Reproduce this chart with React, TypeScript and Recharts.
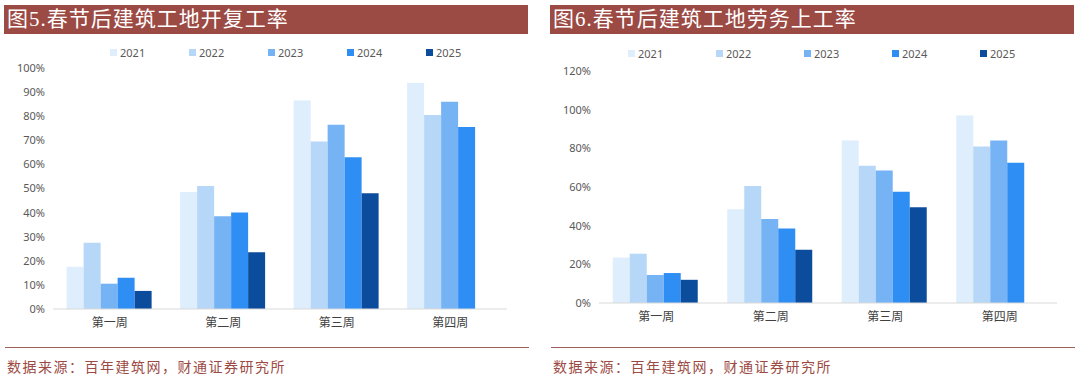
import { BarChart, Bar, XAxis, YAxis, Legend } from 'recharts'

const weeks = ['第一周', '第二周', '第三周', '第四周']
const years = ['2021', '2022', '2023', '2024', '2025']
const colors = ['#DEEEFC', '#B7D7F8', '#76B3F5', '#2F8EF4', '#0B4C9C']

// 开复工率 (%)
const resume2021 = [17.5, 48.5, 86.5, 93.8]
const resume2022 = [27.5, 51, 69.5, 80.5]
const resume2023 = [10.5, 38.5, 76.5, 86]
const resume2024 = [13, 40, 63, 75.5]
const resume2025 = [7.5, 23.5, 48, null]
const resumeTicks = [0, 10, 20, 30, 40, 50, 60, 70, 80, 90, 100]

// 劳务上工率 (%)
const labor2021 = [23.5, 48.5, 84, 97]
const labor2022 = [25.5, 60.5, 71, 81]
const labor2023 = [14.5, 43.5, 68.5, 84]
const labor2024 = [15.5, 38.5, 57.5, 72.5]
const labor2025 = [12, 27.5, 49.5, null]
const laborTicks = [0, 20, 40, 60, 80, 100, 120]

const build = (series: (number | null)[][]) =>
  weeks.map((w, i) => {
    const row: Record<string, string | number | null> = { week: w }
    years.forEach((y, j) => {
      row[y] = series[j][i]
    })
    return row
  })

const resumeData = build([resume2021, resume2022, resume2023, resume2024, resume2025])
const laborData = build([labor2021, labor2022, labor2023, labor2024, labor2025])

const BRAND = '#9C4A44'
const serif = '"Liberation Serif", "DejaVu Serif", "Noto Sans CJK SC", serif'
const sans = '"Noto Sans", "Noto Sans CJK SC", sans-serif'

const legendContent = (itemWidth: number) => () => (
  <div style={{ display: 'flex' }}>
    {years.map((y, i) => (
      <div
        key={y}
        style={{ width: itemWidth, display: 'flex', alignItems: 'center', fontSize: 11, color: '#595959', fontFamily: sans }}
      >
        <span style={{ width: 7, height: 7, background: colors[i], marginRight: 3, display: 'inline-block' }} />
        {y}
      </div>
    ))}
  </div>
)

function Panel({
  left,
  title,
  data,
  ticks,
  max,
  marginTop,
  marginBottom,
  marginRight,
  legendLeft,
  legendTop,
  legendItem,
}: {
  left: number
  title: string
  data: Record<string, string | number | null>[]
  ticks: number[]
  max: number
  marginTop: number
  marginBottom: number
  marginRight: number
  legendLeft: number
  legendTop: number
  legendItem: number
}) {
  return (
    <>
      <div
        style={{
          position: 'absolute',
          left: left + 4,
          top: 5,
          width: 524,
          height: 29,
          background: BRAND,
          color: '#fff',
          fontFamily: serif,
          fontSize: 21,
          lineHeight: '29px',
          letterSpacing: 1,
          paddingLeft: 3,
          boxSizing: 'border-box',
          whiteSpace: 'nowrap',
        }}
      >
        {title}
      </div>
      <div style={{ position: 'absolute', left: left, top: 40 }}>
        <BarChart
          width={530}
          height={300}
          data={data}
          barCategoryGap="12%"
          barGap={0}
          margin={{ top: marginTop, right: marginRight, bottom: marginBottom, left: 0 }}
        >
          <XAxis
            dataKey="week"
            height={30}
            tickLine={false}
            tickSize={0}
            tickMargin={9}
            axisLine={{ stroke: '#D9D9D9' }}
            tick={{ fontSize: 12, fill: '#404040', fontFamily: sans }}
          />
          <YAxis
            width={53}
            domain={[0, max]}
            ticks={ticks}
            interval={0}
            axisLine={false}
            tickLine={false}
            tickSize={0}
            tickMargin={8}
            tickFormatter={(v) => `${v}%`}
            tick={{ fontSize: 11, fill: '#595959', fontFamily: sans }}
          />
          <Legend
            layout="horizontal"
            verticalAlign="middle"
            align="center"
            wrapperStyle={{ left: legendLeft, top: legendTop, width: legendItem * 5 }}
            content={legendContent(legendItem)}
          />
          {years.map((y, i) => (
            <Bar key={y} dataKey={y} fill={colors[i]} isAnimationActive={false} />
          ))}
        </BarChart>
      </div>
      <div
        style={{
          position: 'absolute',
          left: left + 5,
          top: 347,
          width: 524,
          height: 0,
          borderTop: '1.5px solid #A0615C',
        }}
      />
      <div
        style={{
          position: 'absolute',
          left: left + 7,
          top: 356,
          fontFamily: serif,
          fontSize: 14,
          letterSpacing: 1.5,
          color: BRAND,
          whiteSpace: 'nowrap',
        }}
      >
        数据来源：百年建筑网，财通证券研究所
      </div>
    </>
  )
}

export default function App() {
  return (
    <div style={{ position: 'absolute', left: 0, top: 0, width: 1080, height: 381, background: '#fff' }}>
      <Panel
        left={0}
        title="图5.春节后建筑工地开复工率"
        data={resumeData}
        ticks={resumeTicks}
        max={100}
        marginTop={28}
        marginBottom={1}
        marginRight={23}
        legendLeft={110}
        legendTop={5}
        legendItem={79}
      />
      <Panel
        left={546}
        title="图6.春节后建筑工地劳务上工率"
        data={laborData}
        ticks={laborTicks}
        max={120}
        marginTop={31}
        marginBottom={7}
        marginRight={19}
        legendLeft={82}
        legendTop={6}
        legendItem={88}
      />
    </div>
  )
}
